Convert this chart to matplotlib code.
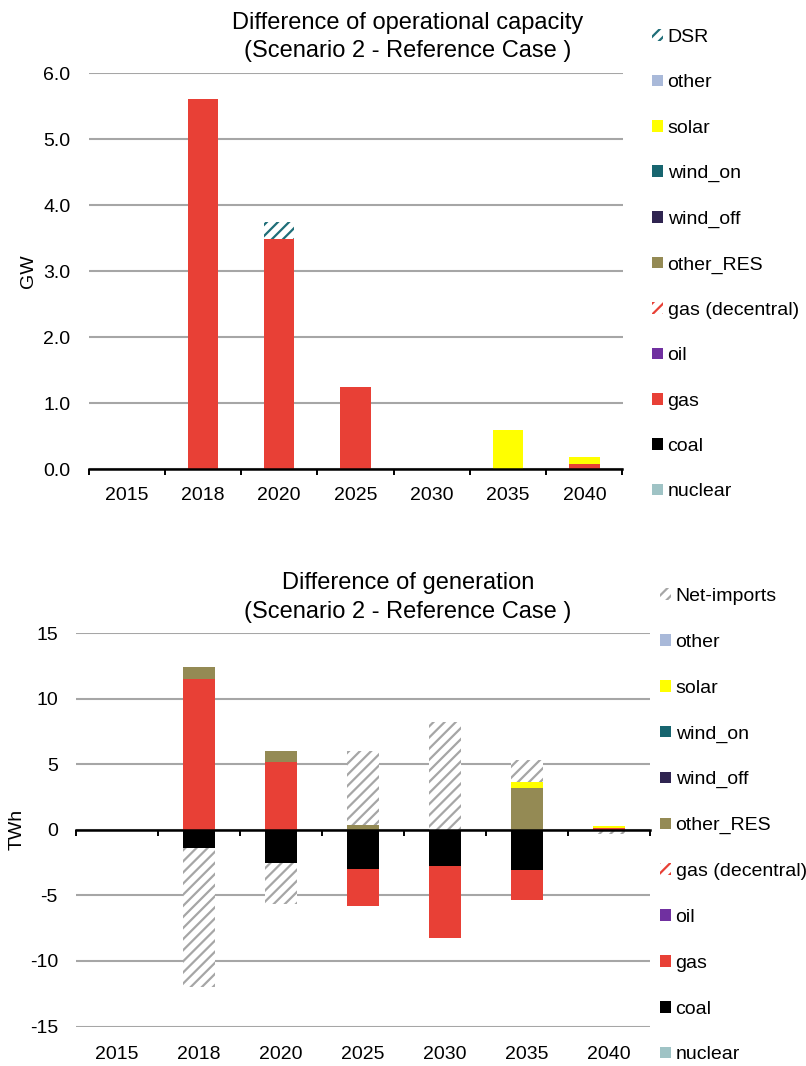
import numpy as np
import matplotlib
matplotlib.use("Agg")
import matplotlib.pyplot as plt
from matplotlib.ticker import FormatStrFormatter

plt.rcParams['font.family'] = ['Liberation Sans', 'DejaVu Sans']
plt.rcParams['axes.unicode_minus'] = False
plt.rcParams['hatch.linewidth'] = 1.6

years = ['2015', '2018', '2020', '2025', '2030', '2035', '2040']

# capacity difference, GW
cap_nuclear = [0, 0, 0, 0, 0, 0, 0]
cap_coal = [0, 0, 0, 0, 0, 0, 0]
cap_gas = [0, 5.6, 3.48, 1.25, 0, 0, 0.08]
cap_oil = [0, 0, 0, 0, 0, 0, 0]
cap_gas_dec = [0, 0, 0, 0, 0, 0, 0]
cap_other_res = [0, 0, 0, 0, 0, 0, 0]
cap_wind_off = [0, 0, 0, 0, 0, 0, 0]
cap_wind_on = [0, 0, 0, 0, 0, 0, 0]
cap_solar = [0, 0, 0, 0, 0, 0.59, 0.10]
cap_other = [0, 0, 0, 0, 0, 0, 0]
cap_dsr = [0, 0, 0.26, 0, 0, 0, 0]

# generation difference, TWh
gen_nuclear = [0, 0, 0, 0, 0, 0, 0]
gen_coal = [0, -1.42, -2.5, -2.96, -2.78, -3.09, 0]
gen_gas = [0, 11.5, 5.17, -2.89, -5.51, -2.26, 0.15]
gen_oil = [0, 0, 0, 0, 0, 0, 0]
gen_gas_dec = [0, 0, 0, 0, 0, 0, 0]
gen_other_res = [0, 0.88, 0.81, 0.4, 0, 3.22, 0]
gen_wind_off = [0, 0, 0, 0, 0, 0, 0]
gen_wind_on = [0, 0, 0, 0, 0, 0, 0]
gen_solar = [0, 0, 0, 0, 0, 0.45, 0.1]
gen_other = [0, 0, 0, 0, 0, 0, 0]
gen_net_imports = [0, -10.55, -3.13, 5.64, 8.25, 1.63, -0.3]

# label -> (facecolor, hatch colour or None)
styles = {
    'nuclear': ('#9fc3c5', None),
    'coal': ('#000000', None),
    'gas': ('#e84036', None),
    'oil': ('#7030a0', None),
    'gas (decentral)': ('white', '#e84036'),
    'other_RES': ('#948a54', None),
    'wind_off': ('#2f2450', None),
    'wind_on': ('#17656f', None),
    'solar': ('#ffff00', None),
    'other': ('#a9b9d9', None),
    'DSR': ('white', '#1f6e78'),
    'Net-imports': ('white', '#a6a6a6'),
}

cap_series = [('nuclear', cap_nuclear), ('coal', cap_coal), ('gas', cap_gas),
              ('oil', cap_oil), ('gas (decentral)', cap_gas_dec),
              ('other_RES', cap_other_res), ('wind_off', cap_wind_off),
              ('wind_on', cap_wind_on), ('solar', cap_solar),
              ('other', cap_other), ('DSR', cap_dsr)]
gen_series = [('nuclear', gen_nuclear), ('coal', gen_coal), ('gas', gen_gas),
              ('oil', gen_oil), ('gas (decentral)', gen_gas_dec),
              ('other_RES', gen_other_res), ('wind_off', gen_wind_off),
              ('wind_on', gen_wind_on), ('solar', gen_solar),
              ('other', gen_other), ('Net-imports', gen_net_imports)]

W, H = 806, 1066
fig = plt.figure(figsize=(W / 100, H / 100), dpi=100)


def stacked(ax, series):
    # positive and negative parts stack separately, like the spreadsheet does
    x = np.arange(len(years))
    pos = np.zeros(len(years))
    neg = np.zeros(len(years))
    for name, vals in series:
        v = np.array(vals, dtype=float)
        base = np.where(v >= 0, pos, neg)
        fc, hc = styles[name]
        if hc is None:
            ax.bar(x, v, 0.4, bottom=base, color=fc, linewidth=0, label=name)
        else:
            ax.bar(x, v, 0.4, bottom=base, facecolor=fc, edgecolor=hc,
                   hatch='///', linewidth=0, label=name)
        pos = pos + np.where(v >= 0, v, 0)
        neg = neg + np.where(v < 0, v, 0)


def style_axes(ax, ylo, yhi, step, fmt, label_pad):
    ax.set_xlim(-0.5, len(years) - 0.5)
    ax.set_ylim(ylo, yhi)
    ax.set_yticks(np.arange(ylo, yhi + step / 2, step))
    ax.yaxis.set_major_formatter(FormatStrFormatter(fmt))
    ax.tick_params(axis='y', length=0, labelsize=14, pad=13)
    ax.yaxis.grid(True, color='#a6a6a6', linewidth=1.5)
    ax.set_axisbelow(True)
    for s in ['left', 'right', 'top']:
        ax.spines[s].set_visible(False)
    ax.spines['bottom'].set_position(('data', 0))
    ax.spines['bottom'].set_linewidth(1.8)
    ax.spines['bottom'].set_zorder(5)
    ax.set_xticks(np.arange(-0.5, len(years), 1.0))
    ax.tick_params(axis='x', length=4.5, width=1.4, direction='out',
                   labelbottom=False)
    # category names sit below the plot area, not on the zero line
    sec = ax.secondary_xaxis(0)
    sec.set_xticks(np.arange(len(years)), years)
    sec.tick_params(length=0, labelsize=14, pad=label_pad)
    sec.spines['bottom'].set_visible(False)


def legend_for(ax, x_px, top_px, spacing):
    h, l = ax.get_legend_handles_labels()
    fig.legend(h[::-1], l[::-1], loc='upper left',
               bbox_to_anchor=(x_px / W, 1 - top_px / H),
               frameon=False, fontsize=14, borderpad=0, borderaxespad=0,
               handlelength=0.55, handleheight=0.55, handletextpad=0.25,
               labelspacing=spacing)


# capacity chart
ax1 = fig.add_axes([88.5 / W, 1 - 469 / H, 534 / W, 396 / H])
stacked(ax1, cap_series)
style_axes(ax1, 0, 6, 1, '%.1f', 13)
ax1.set_ylabel('GW', fontsize=14)
ax1.yaxis.set_label_coords(-0.097, 0.5)
fig.text(408 / W, 1 - 23 / H, 'Difference of operational capacity',
         ha='center', va='center', fontsize=17)
fig.text(408 / W, 1 - 51.5 / H, '(Scenario 2 - Reference Case )',
         ha='center', va='center', fontsize=17)
legend_for(ax1, 652, 29, 1.46)

# generation chart
ax2 = fig.add_axes([76 / W, 1 - 1026.5 / H, 574 / W, 393.5 / H])
stacked(ax2, gen_series)
style_axes(ax2, -15, 15, 5, '%d', 14)
ax2.set_ylabel('TWh', fontsize=14)
ax2.yaxis.set_label_coords(-0.087, 0.5)
fig.text(408 / W, 1 - 583 / H, 'Difference of generation',
         ha='center', va='center', fontsize=17)
fig.text(408 / W, 1 - 612 / H, '(Scenario 2 - Reference Case )',
         ha='center', va='center', fontsize=17)
legend_for(ax2, 660, 588, 1.48)

fig.savefig('out.png', dpi=100)
